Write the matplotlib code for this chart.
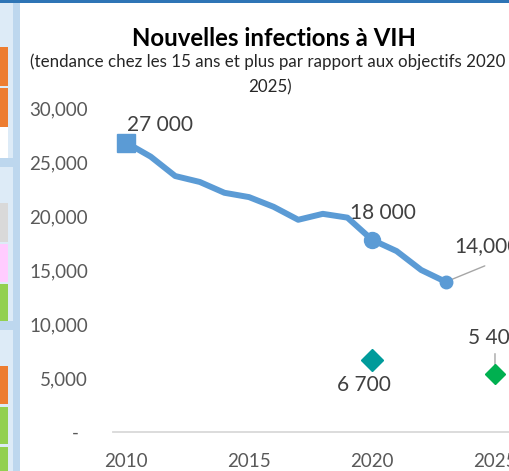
import matplotlib.pyplot as plt
from matplotlib.patches import Rectangle

# données
years = list(range(2010, 2024))
infections = [26800, 25500, 23700, 23150, 22150, 21750, 20850,
              19650, 20200, 19850, 17800, 16750, 15000, 13900]
target_years = [2020, 2025]
targets = [6700, 5400]
target_colors = ['#009B9B', '#00B050']
yticks = [0, 5000, 10000, 15000, 20000, 25000, 30000]
ytick_labels = ['-  ', '5,000', '10,000', '15,000', '20,000', '25,000', '30,000']
xticks = [2010, 2015, 2020, 2025]

W, H = 509, 471
plt.rcParams['font.family'] = ['Lato', 'DejaVu Sans']

fig = plt.figure(figsize=(W / 100, H / 100), dpi=100)


def box(x0, y0, x1, y1, color):
    # rectangle en pixels (origine en haut a gauche)
    fig.add_artist(Rectangle((x0 / W, 1 - y1 / H), (x1 - x0) / W, (y1 - y0) / H,
                             transform=fig.transFigure, color=color, lw=0, zorder=0))


# decor autour du graphique (capture d'ecran d'un tableau de bord)
box(0, 0, 13, H, '#DDEBF7')
box(13, 0, 20, H, '#BDD7EE')
box(0, 0, W, 3, '#2E75B6')
box(0, 158, 13, 167, '#BDD7EE')
box(0, 321, 13, 330, '#BDD7EE')
box(0, 47, 8, 86, '#ED7D31')
box(0, 88, 8, 127, '#ED7D31')
box(0, 127, 8, 158, 'white')
box(0, 203, 8, 242, '#D9D9D9')
box(0, 244, 8, 282, '#FFCCFF')
box(0, 284, 8, 321, '#92D050')
box(0, 366, 8, 404, '#ED7D31')
box(0, 407, 8, 444, '#92D050')
box(0, 447, 8, H, '#92D050')

ax = fig.add_axes([113 / W, (H - 432) / H, (W - 113) / W, 324 / H])
ax.set_xlim(2009.47, 2025.57)
ax.set_ylim(0, 30000)

line_color = '#5B9BD5'
ax.plot(years, infections, color=line_color, lw=4.3, solid_joinstyle='round',
        solid_capstyle='round', zorder=3)
ax.plot(years[0], infections[0], 's', color=line_color, ms=13, zorder=4)
i20 = years.index(2020)
ax.plot(years[i20], infections[i20], 'o', color=line_color, ms=11.5, zorder=4)
ax.plot(years[-1], infections[-1], 'o', color=line_color, ms=9, zorder=4)

for yr, val, col in zip(target_years, targets, target_colors):
    ax.plot(yr, val, 'D', color=col, ms=11.5 if yr == 2020 else 10, clip_on=False, zorder=4)

lab = dict(fontsize=15, color='#404040', textcoords='offset pixels', annotation_clip=False)
ax.annotate('27 000', (years[0], infections[0]), xytext=(34, 18), ha='center', va='center', **lab)
ax.annotate('18 000', (years[i20], infections[i20]), xytext=(11, 27), ha='center', va='center', **lab)
ax.annotate('14,000', (years[-1], infections[-1]), xytext=(8, 36), ha='left', va='center', **lab)
ax.annotate('6 700', (target_years[0], targets[0]), xytext=(-8, -25), ha='center', va='center', **lab)
ax.annotate('5 400', (target_years[1], targets[1]), xytext=(-27, 36), ha='left', va='center', **lab)

lead = dict(arrowstyle='-', color='#A6A6A6', lw=1, shrinkA=0, shrinkB=0)
ax.annotate('', (years[-1], infections[-1]), xytext=(39, 16), textcoords='offset pixels',
            arrowprops=lead, annotation_clip=False)
ax.annotate('', (target_years[1], targets[1]), xytext=(0, 20), textcoords='offset pixels',
            arrowprops=lead, annotation_clip=False)

for s in ['top', 'right', 'left']:
    ax.spines[s].set_visible(False)
ax.spines['bottom'].set_color('#D9D9D9')
ax.spines['bottom'].set_linewidth(1.3)
ax.set_yticks(yticks)
ax.set_yticklabels(ytick_labels)
ax.set_xticks(xticks)
ax.set_xticklabels([str(x) for x in xticks])
ax.tick_params(axis='y', length=0, pad=18, labelsize=13.5, labelcolor='#595959')
ax.tick_params(axis='x', length=0, pad=15, labelsize=13.5, labelcolor='#595959')

fig.text(274 / W, 1 - 38 / H, 'Nouvelles infections à VIH', ha='center', va='center',
         fontsize=17.3, fontweight='bold', color='black')
fig.text(268 / W, 1 - 62 / H, '(tendance chez les 15 ans et plus par rapport aux objectifs 2020',
         ha='center', va='center', fontsize=12.2, color='#262626')
fig.text(270 / W, 1 - 87 / H, '2025)', ha='center', va='center', fontsize=12.2, color='#262626')

fig.savefig('out.png', dpi=100)
